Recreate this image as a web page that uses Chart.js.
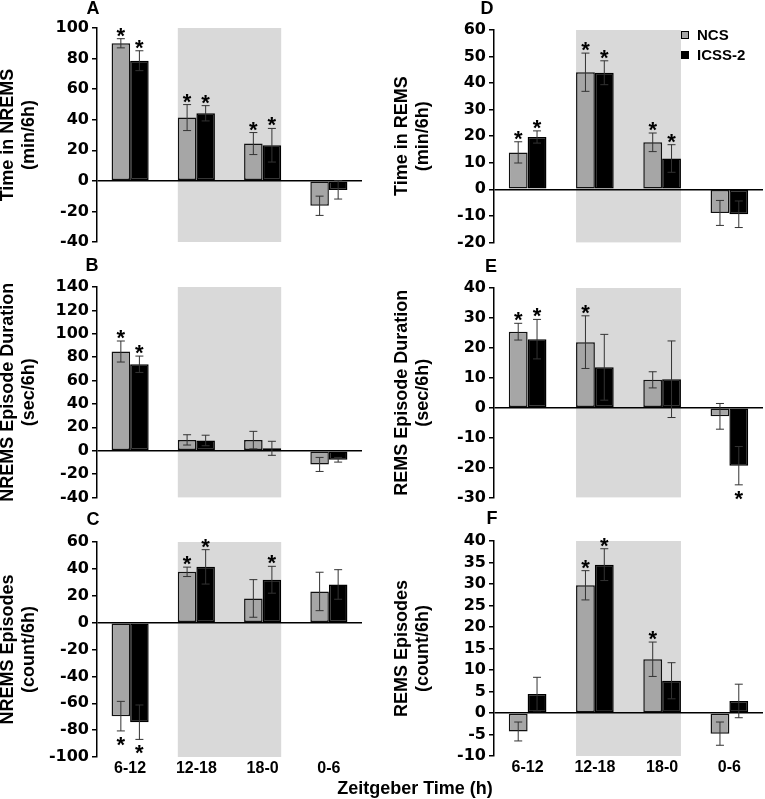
<!DOCTYPE html>
<html>
<head>
<meta charset="utf-8">
<script src="https://cdn.jsdelivr.net/npm/chart.js@4.4.1/dist/chart.umd.min.js"></script>
<style>
  html, body { margin: 0; padding: 0; background: #fff; }
  #page { position: relative; width: 765px; height: 799px; overflow: hidden; }
  .panel { position: absolute; }
  #xtitle { position: absolute; left: 300px; width: 230px; top: 777px; text-align: center;
            font: bold 18px "Liberation Sans", Arial, sans-serif; color: #000; line-height: 22px; }
</style>
</head>
<body>
<div id="page">
  <div class="panel" id="pA" style="left:-3px;top:0px;width:378px;height:255px"><canvas id="cA"></canvas></div>
  <div class="panel" id="pB" style="left:-3px;top:255px;width:378px;height:255px"><canvas id="cB"></canvas></div>
  <div class="panel" id="pC" style="left:-3px;top:510px;width:378px;height:289px"><canvas id="cC"></canvas></div>
  <div class="panel" id="pD" style="left:375px;top:0px;width:390px;height:255px"><canvas id="cD"></canvas></div>
  <div class="panel" id="pE" style="left:375px;top:255px;width:390px;height:255px"><canvas id="cE"></canvas></div>
  <div class="panel" id="pF" style="left:375px;top:510px;width:390px;height:289px"><canvas id="cF"></canvas></div>
  <div id="xtitle">Zeitgeber Time (h)</div>
</div>
<script>
// categories / series
const zeitgeber = ['6-12', '12-18', '18-0', '0-6'];
const seriesNames = ['NCS', 'ICSS-2'];

// A: Time in NREMS (min/6h)
const nremsTimeNcs = [90, 41.4, 24.4, -16.3];
const nremsTimeNcsErr = [3, 8.5, 7.2, 6.3];
const nremsTimeIcss = [78.6, 44.2, 23.3, -5.9];
const nremsTimeIcssErr = [6.5, 5, 11, 6];
const nremsTimeStars = [[1, 1, 1, 0], [1, 1, 1, 0]];

// B: NREMS Episode Duration (sec/6h)
const nremsDurNcs = [84.8, 9.2, 9, -11.8];
const nremsDurNcsErr = [9, 4.4, 7.5, 6];
const nremsDurIcss = [73.9, 8.7, 2, -7.8];
const nremsDurIcssErr = [7, 4.5, 6, 2];
const nremsDurStars = [[1, 0, 0, 0], [1, 0, 0, 0]];

// C: NREMS Episodes (count/6h)
const nremsEpiNcs = [-69.6, 37.8, 18, 23.2];
const nremsEpiNcsErr = [11, 3.5, 14, 14.3];
const nremsEpiIcss = [-74.1, 41.5, 31.9, 28.4];
const nremsEpiIcssErr = [12.8, 12.8, 10, 11];
const nremsEpiStars = [[1, 1, 0, 0], [1, 1, 1, 0]];

// D: Time in REMS (min/6h)
const remsTimeNcs = [13.9, 44.1, 17.7, -8.9];
const remsTimeNcsErr = [4, 7.2, 3.5, 4.7];
const remsTimeIcss = [19.7, 43.9, 11.6, -9.4];
const remsTimeIcssErr = [2.3, 4.5, 5.2, 5];
const remsTimeStars = [[1, 1, 1, 0], [1, 1, 1, 0]];

// E: REMS Episode Duration (sec/6h)
const remsDurNcs = [25.4, 21.9, 9.3, -2.9];
const remsDurNcsErr = [2.8, 8.8, 2.7, 4.3];
const remsDurIcss = [22.9, 13.5, 9.5, -19.4];
const remsDurIcssErr = [6.6, 11, 12.8, 6.4];
const remsDurStars = [[1, 1, 0, 0], [1, 0, 0, 1]];

// F: REMS Episodes (count/6h)
const remsEpiNcs = [-4.3, 29.7, 12.5, -4.8];
const remsEpiNcsErr = [2.2, 3.4, 4, 2.7];
const remsEpiIcss = [4.4, 34.5, 7.5, 2.8];
const remsEpiIcssErr = [3.9, 3.7, 4.2, 3.9];
const remsEpiStars = [[0, 1, 1, 0], [0, 1, 0, 0]];

const ARIAL = '"Liberation Sans", Arial, sans-serif';
const GREY = '#a6a6a6';

// shading behind 12-18 / 18-0, error bars, asterisks, panel letter, legend
const decor = {
  id: 'decor',
  beforeDraw(chart, args, o) {
    const { ctx, chartArea } = chart;
    const a = chart.getDatasetMeta(0).data[1];
    const b = chart.getDatasetMeta(1).data[2];
    const x0 = a.x - a.width / 2, x1 = b.x + b.width / 2;
    ctx.save();
    ctx.fillStyle = '#d9d9d9';
    ctx.fillRect(x0, chartArea.top, x1 - x0, chartArea.bottom - chartArea.top);
    ctx.restore();
  },
  afterDatasetsDraw(chart, args, o) {
    const { ctx } = chart;
    const y = chart.scales.y;
    ctx.save();
    chart.data.datasets.forEach((ds, i) => {
      const meta = chart.getDatasetMeta(i);
      meta.data.forEach((el, j) => {
        const v = ds.data[j], e = o.errors[i][j];
        const yt = y.getPixelForValue(v + e), yb = y.getPixelForValue(v - e);
        ctx.strokeStyle = '#333';
        ctx.lineWidth = 1;
        ctx.beginPath();
        ctx.moveTo(el.x, yt); ctx.lineTo(el.x, yb);
        ctx.moveTo(el.x - 4, yt); ctx.lineTo(el.x + 4, yt);
        ctx.moveTo(el.x - 4, yb); ctx.lineTo(el.x + 4, yb);
        ctx.stroke();
        if (o.stars[i][j]) {
          ctx.fillStyle = '#000';
          ctx.font = 'bold 22px ' + ARIAL;
          ctx.textAlign = 'center';
          ctx.textBaseline = 'alphabetic';
          ctx.fillText('*', el.x, v >= 0 ? yt + 4 : yb + 21);
        }
      });
    });
    ctx.restore();
  },
  afterDraw(chart, args, o) {
    const { ctx } = chart;
    ctx.save();
    ctx.fillStyle = '#000';
    ctx.font = 'bold 18px ' + ARIAL;
    ctx.textAlign = 'center';
    ctx.textBaseline = 'middle';
    ctx.fillText(o.letter, o.letterX - o.offX, o.letterY - o.offY);
    if (o.legend) {
      ctx.font = 'bold 15px ' + ARIAL;
      ctx.textAlign = 'left';
      const fills = [GREY, '#000'];
      seriesNames.forEach((name, i) => {
        const cy = 35 + i * 20 - o.offY;
        const bx = 681 - o.offX;
        ctx.fillStyle = fills[i];
        ctx.fillRect(bx, cy - 4, 8, 8);
        ctx.strokeStyle = '#000';
        ctx.lineWidth = 1;
        ctx.strokeRect(bx + 0.5, cy - 3.5, 7, 7);
        ctx.fillStyle = '#000';
        ctx.fillText(name, 697 - o.offX, cy + 1);
      });
    }
    ctx.restore();
  }
};

function makePanel(cfg) {
  const left = cfg.col === 0;
  const bottomRow = cfg.row === 2;
  const offX = left ? -3 : 375;
  const offY = [0, 255, 510][cfg.row];
  new Chart(document.getElementById(cfg.canvas), {
    type: 'bar',
    plugins: [decor],
    data: {
      labels: zeitgeber,
      datasets: [
        { label: seriesNames[0], data: cfg.ncs, backgroundColor: GREY, borderColor: '#111',
          borderWidth: 1.5, borderSkipped: false },
        { label: seriesNames[1], data: cfg.icss, backgroundColor: '#000', borderColor: '#000',
          borderWidth: 1.5, borderSkipped: false }
      ]
    },
    options: {
      responsive: true,
      maintainAspectRatio: false,
      animation: false,
      events: [],
      categoryPercentage: 0.56,
      barPercentage: 1,
      layout: { padding: { top: cfg.padTop, right: left ? 13 : 2, bottom: bottomRow ? 0 : cfg.padBottom, left: 0 } },
      plugins: {
        legend: { display: false },
        tooltip: { enabled: false },
        decor: {
          errors: [cfg.ncsErr, cfg.icssErr], stars: cfg.stars,
          letter: cfg.letter, letterX: cfg.letterX, letterY: cfg.letterY,
          offX: offX, offY: offY, legend: !!cfg.legend
        }
      },
      scales: {
        x: {
          display: bottomRow,
          grid: { display: false, drawTicks: false },
          border: { display: false },
          ticks: { color: '#000', padding: 2, font: { family: ARIAL, size: 16, weight: 'bold' } },
          afterFit: (s) => { if (bottomRow) s.height = cfg.xHeight; }
        },
        y: {
          min: cfg.min, max: cfg.max,
          afterFit: (s) => { s.width = left ? 100 : 119; },
          ticks: { stepSize: cfg.step, autoSkip: false, color: '#000', padding: 3,
                   font: { family: '"DejaVu Sans", sans-serif', size: 16, weight: 'bold' } },
          grid: {
            color: (c) => (c.tick && c.tick.value === 0 ? '#000' : 'rgba(0,0,0,0)'),
            lineWidth: 1.5,
            tickColor: '#000',
            tickLength: 5
          },
          border: { display: true, color: '#000', width: 1.5 },
          title: {
            display: true, text: cfg.title, color: '#000',
            font: { family: ARIAL, size: 18, weight: 'bold', lineHeight: 1.2 },
            padding: { top: left ? 0 : 16, bottom: 0 }
          }
        }
      }
    }
  });
}

makePanel({ canvas: 'cA', col: 0, row: 0, letter: 'A', letterX: 93, letterY: 9,
  title: ['Time in NREMS', '(min/6h)'], min: -40, max: 100, step: 20, padTop: 28, padBottom: 13,
  ncs: nremsTimeNcs, ncsErr: nremsTimeNcsErr, icss: nremsTimeIcss, icssErr: nremsTimeIcssErr, stars: nremsTimeStars });
makePanel({ canvas: 'cB', col: 0, row: 1, letter: 'B', letterX: 92, letterY: 266,
  title: ['NREMS Episode Duration', '(sec/6h)'], min: -40, max: 140, step: 20, padTop: 32, padBottom: 9,
  ncs: nremsDurNcs, ncsErr: nremsDurNcsErr, icss: nremsDurIcss, icssErr: nremsDurIcssErr, stars: nremsDurStars });
makePanel({ canvas: 'cC', col: 0, row: 2, letter: 'C', letterX: 93, letterY: 520,
  title: ['NREMS Episodes', '(count/6h)'], min: -100, max: 60, step: 20, padTop: 32, xHeight: 42,
  ncs: nremsEpiNcs, ncsErr: nremsEpiNcsErr, icss: nremsEpiIcss, icssErr: nremsEpiIcssErr, stars: nremsEpiStars });
makePanel({ canvas: 'cD', col: 1, row: 0, letter: 'D', letterX: 487, letterY: 9, legend: true,
  title: ['Time in REMS', '(min/6h)'], min: -20, max: 60, step: 10, padTop: 30, padBottom: 10,
  ncs: remsTimeNcs, ncsErr: remsTimeNcsErr, icss: remsTimeIcss, icssErr: remsTimeIcssErr, stars: remsTimeStars });
makePanel({ canvas: 'cE', col: 1, row: 1, letter: 'E', letterX: 491, letterY: 267,
  title: ['REMS Episode Duration', '(sec/6h)'], min: -30, max: 40, step: 10, padTop: 33, padBottom: 9,
  ncs: remsDurNcs, ncsErr: remsDurNcsErr, icss: remsDurIcss, icssErr: remsDurIcssErr, stars: remsDurStars });
makePanel({ canvas: 'cF', col: 1, row: 2, letter: 'F', letterX: 492, letterY: 519,
  title: ['REMS Episodes', '(count/6h)'], min: -10, max: 40, step: 5, padTop: 31, xHeight: 43,
  ncs: remsEpiNcs, ncsErr: remsEpiNcsErr, icss: remsEpiIcss, icssErr: remsEpiIcssErr, stars: remsEpiStars });
</script>
</body>
</html>
